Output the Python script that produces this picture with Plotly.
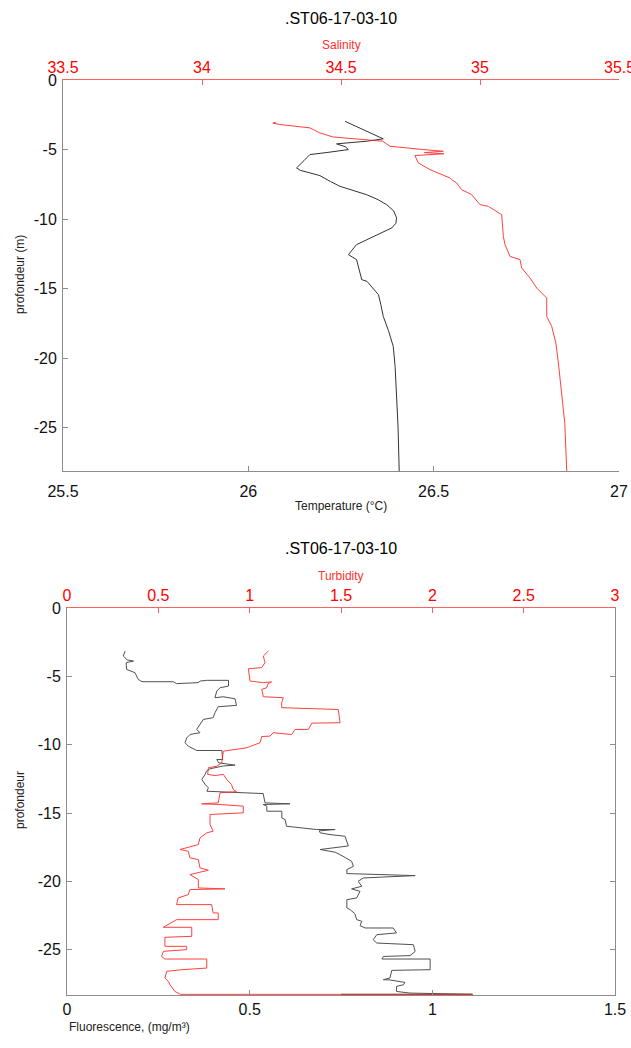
import plotly.graph_objects as go

# ---- CTD cast .ST06-17-03-10 : temperature / salinity profile ----
temp_depth = [-2.97, -3.6, -4.23, -4.40, -4.59, -4.80, -5.00, -5.20, -5.29, -5.36, -5.8, -6.32, -6.49,
              -6.87, -7.30, -7.64, -8.24, -8.60, -8.96, -9.40, -9.91, -10.30, -10.63, -11.12, -11.50,
              -11.83, -12.55, -12.91, -13.60, -14.35, -14.47, -15.43, -16.20, -16.99, -18.00, -19.15,
              -20.59, -22.50, -25.00, -28.10]
temperature = [26.261, 26.315, 26.364, 26.319, 26.238, 26.262, 26.270, 26.215, 26.190, 26.166, 26.150,
               26.130, 26.140, 26.193, 26.222, 26.247, 26.319, 26.350, 26.373, 26.392, 26.400, 26.398,
               26.387, 26.346, 26.318, 26.292, 26.270, 26.292, 26.298, 26.306, 26.320, 26.351, 26.358,
               26.364, 26.378, 26.391, 26.396, 26.400, 26.404, 26.407]

sal_depth = [-3.03, -3.10, -3.20, -3.44, -3.80, -4.09, -4.40, -4.76, -5.00, -5.12, -5.22, -5.30, -5.43,
             -5.96, -6.44, -7.04, -7.16, -7.40, -7.88, -8.24, -8.96, -9.08, -9.68, -10.50, -11.24,
             -11.83, -12.68, -12.91, -13.51, -14.23, -14.95, -15.67, -16.99, -17.71, -18.91, -20.35,
             -22.50, -24.66, -28.10]
salinity = [34.266, 34.255, 34.280, 34.388, 34.424, 34.470, 34.650, 34.676, 34.796, 34.868, 34.800,
            34.870, 34.766, 34.778, 34.820, 34.892, 34.898, 34.916, 34.934, 34.970, 35.000, 35.030,
            35.078, 35.082, 35.084, 35.090, 35.108, 35.144, 35.150, 35.180, 35.204, 35.240, 35.240,
            35.258, 35.273, 35.282, 35.294, 35.305, 35.312]

# ---- fluorescence / turbidity profile ----
fluo_depth = [-3.15, -3.51, -3.80, -3.88, -3.95, -4.00, -4.49, -4.73, -5.22, -5.39, -5.39, -5.53, -5.46,
              -5.34, -5.29, -5.29, -5.71, -5.83, -6.07, -6.56, -6.49, -6.64, -7.12, -7.22, -7.66, -8.02,
              -8.15, -8.51, -8.88, -9.12, -9.25, -9.49, -9.85, -10.10, -10.42, -10.42, -11.08, -11.08,
              -11.32, -11.49, -11.55, -11.76, -11.93, -12.17, -12.54, -12.90, -13.15, -13.40, -13.47,
              -13.47, -13.57, -14.25, -14.32, -14.37, -14.49, -14.86, -14.86, -15.35, -15.47, -15.96,
              -16.08, -16.20, -16.20, -16.30, -16.44, -16.57, -16.69, -17.18, -17.40, -17.66, -17.86,
              -18.03, -18.52, -18.89, -19.13, -19.42, -19.57, -19.74, -19.98, -20.35, -20.54, -20.72,
              -21.20, -21.33, -21.93, -22.06, -22.35, -22.79, -22.91, -23.23, -23.40, -23.40, -23.76,
              -23.89, -24.25, -24.50, -24.62, -25.11, -25.23, -25.42, -25.48, -25.67, -25.67, -26.45,
              -26.50, -27.06, -27.18, -27.20, -27.38, -27.55, -27.67, -28.04, -28.16, -28.25, -28.25]
fluorescence = [0.159, 0.154, 0.165, 0.182, 0.170, 0.162, 0.163, 0.186, 0.195, 0.205, 0.291, 0.300, 0.359,
                0.365, 0.382, 0.442, 0.442, 0.419, 0.410, 0.405, 0.428, 0.460, 0.464, 0.414, 0.405, 0.400,
                0.373, 0.364, 0.355, 0.364, 0.337, 0.328, 0.323, 0.332, 0.355, 0.424, 0.426, 0.410,
                0.415, 0.460, 0.428, 0.391, 0.382, 0.378, 0.369, 0.378, 0.387, 0.383, 0.437,
                0.474, 0.537, 0.542, 0.610, 0.537, 0.547, 0.547, 0.588, 0.588, 0.597, 0.601,
                0.638, 0.683, 0.734, 0.690, 0.693, 0.720, 0.761, 0.766, 0.770, 0.693, 0.734,
                0.747, 0.779, 0.784, 0.766, 0.766, 0.953, 0.811, 0.797, 0.807, 0.779, 0.802,
                0.793, 0.766, 0.766, 0.775, 0.788, 0.793, 0.807, 0.802, 0.816, 0.893, 0.902,
                0.848, 0.838, 0.848, 0.948, 0.953, 0.948, 0.939, 0.866, 0.862, 0.994, 0.994,
                0.889, 0.884, 0.866, 0.884, 0.925, 0.921, 0.902, 0.902, 0.939, 1.110, 0.750]

turb_depth = [-3.15, -3.51, -4.00, -4.36, -4.44, -5.34, -5.46, -5.40, -5.55, -5.83, -5.95, -6.49, -6.56,
              -6.93, -7.29, -7.37, -7.42, -8.39, -8.42, -8.88, -8.88, -9.25, -9.12, -9.37, -9.40, -9.85,
              -10.22, -10.47, -11.32, -11.57, -11.68, -12.17, -12.25, -12.17, -12.54, -12.90, -13.27,
              -13.44, -13.51, -14.25, -14.32, -14.37, -14.49, -14.98, -15.10, -15.83, -16.32, -16.44,
              -16.81, -17.30, -17.66, -17.79, -18.27, -18.40, -19.00, -19.18, -19.37, -19.49, -19.86,
              -20.47, -20.54, -20.55, -20.59, -20.96, -21.20, -21.69, -21.69, -22.30, -22.30, -22.79,
              -22.79, -23.35, -23.35, -24.01, -24.08, -24.74, -24.74, -24.98, -25.11, -25.48, -25.67,
              -25.67, -26.33, -26.45, -26.57, -27.06, -27.31, -27.55, -28.04, -28.25, -28.25]
turbidity = [1.102, 1.075, 1.084, 1.066, 0.993, 1.002, 1.075, 1.120, 1.100, 1.093, 1.066, 1.075, 1.184,
             1.175, 1.175, 1.422, 1.485, 1.495, 1.340, 1.321, 1.248, 1.230, 1.129, 1.111, 1.066, 1.057,
             0.984, 0.856, 0.847, 0.820, 0.774, 0.770, 0.810, 0.856, 0.874, 0.900, 0.910,
             0.928, 0.838, 0.828, 0.737, 0.838, 0.965, 0.965, 0.783, 0.783, 0.800, 0.765,
             0.728, 0.719, 0.619, 0.664, 0.673, 0.719, 0.728, 0.774, 0.719, 0.673, 0.719,
             0.719, 0.865, 0.700, 0.673, 0.664, 0.609, 0.600, 0.792, 0.800, 0.828, 0.828,
             0.600, 0.527, 0.683, 0.683, 0.536, 0.536, 0.655, 0.655, 0.527, 0.518, 0.536,
             0.765, 0.765, 0.628, 0.546, 0.536, 0.555, 0.564, 0.591, 0.620, 2.220]

title_text = ".ST06-17-03-10"
depth_ticks = [0, -5, -10, -15, -20, -25]
temp_ticks = [25.5, 26, 26.5, 27]
sal_ticks = [33.5, 34, 34.5, 35, 35.5]
fluo_ticks = [0, 0.5, 1, 1.5]
turb_ticks = [0, 0.5, 1, 1.5, 2, 2.5, 3]

W, H = 631, 1048
FONT = "Liberation Sans, Arial, sans-serif"
RED = "#ff2020"
TICK_RED = "#ff0000"
BLACK = "#333333"
AXIS_GREY = "#8c8c8c"


def px(x):
    return x / W


def py(y):
    return 1 - y / H


def fmt(v):
    return f"{v:g}"


fig = go.Figure()
fig.add_trace(go.Scatter(x=temperature, y=temp_depth, xaxis="x", yaxis="y", mode="lines",
                         line=dict(color=BLACK, width=1), showlegend=False))
fig.add_trace(go.Scatter(x=salinity, y=sal_depth, xaxis="x2", yaxis="y", mode="lines",
                         line=dict(color=RED, width=1), opacity=0.85, showlegend=False))
fig.add_trace(go.Scatter(x=turbidity, y=turb_depth, xaxis="x4", yaxis="y2", mode="lines",
                         line=dict(color=RED, width=1), opacity=0.85, showlegend=False))
fig.add_trace(go.Scatter(x=fluorescence, y=fluo_depth, xaxis="x3", yaxis="y2", mode="lines",
                         line=dict(color=BLACK, width=1), opacity=0.85, showlegend=False))

tickfont = dict(family=FONT, size=16, color="#111111")
redtick = dict(family=FONT, size=16, color=TICK_RED)

common = dict(showgrid=False, zeroline=False, showline=True, ticks="inside", ticklen=5,
              tickwidth=1, automargin=False)

# the last salinity label sits on the page edge; it is written separately below
sal_text = [fmt(v) for v in sal_ticks[:-1]] + [""]

fig.update_layout(
    width=W, height=H,
    margin=dict(l=0, r=0, t=0, b=0),
    paper_bgcolor="white", plot_bgcolor="white",
    font=dict(family=FONT),
    xaxis=dict(domain=[px(63), px(619)], anchor="y", side="bottom", range=[25.5, 27],
               tickvals=temp_ticks, ticktext=[fmt(v) for v in temp_ticks], tickfont=tickfont,
               linecolor=AXIS_GREY, tickcolor=AXIS_GREY, ticklabelstandoff=6, **common),
    xaxis2=dict(overlaying="x", anchor="y", side="top", range=[33.5, 35.5],
                tickvals=sal_ticks, ticktext=sal_text, tickfont=redtick,
                linecolor="#ff6060", tickcolor="#ff6060", ticklabelstandoff=0, **common),
    yaxis=dict(domain=[py(471), py(80)], anchor="x", range=[-28.1, 0],
               tickvals=depth_ticks, ticktext=[fmt(v) for v in depth_ticks], tickfont=tickfont,
               linecolor=AXIS_GREY, tickcolor=AXIS_GREY, ticklabelstandoff=2, **common),
    xaxis3=dict(domain=[px(67), px(615)], anchor="y2", side="bottom", range=[0, 1.5],
                tickvals=fluo_ticks, ticktext=[fmt(v) for v in fluo_ticks], tickfont=tickfont,
                linecolor=AXIS_GREY, tickcolor=AXIS_GREY, ticklabelstandoff=0, **common),
    xaxis4=dict(overlaying="x3", anchor="y2", side="top", range=[0, 3],
                tickvals=turb_ticks, ticktext=[fmt(v) for v in turb_ticks],
                tickfont=redtick, linecolor="#ff6060", tickcolor="#ff6060",
                ticklabelstandoff=0, **common),
    yaxis2=dict(domain=[py(995), py(608)], anchor="x3", range=[-28.3, 0], mirror="ticks",
                tickvals=depth_ticks, ticktext=[fmt(v) for v in depth_ticks], tickfont=tickfont,
                linecolor=AXIS_GREY, tickcolor=AXIS_GREY, ticklabelstandoff=2, **common),
)

labels = [
    (title_text, 341, 18, "black", 16, 0, "center"),
    ("Salinity", 341, 45, "#ff3030", 12, 0, "center"),
    (fmt(sal_ticks[-1]), 619, 67, TICK_RED, 16, 0, "center"),
    ("Temperature (°C)", 341, 506, "#222222", 12, 0, "center"),
    ("profondeur (m)", 20, 275, "#222222", 12, -90, "center"),
    (title_text, 341, 548, "black", 16, 0, "center"),
    ("Turbidity", 341, 576, "#ff3030", 12, 0, "center"),
    ("profondeur", 20, 800, "#222222", 12, -90, "center"),
    ("Fluorescence, (mg/m³)", 67, 1027, "#222222", 12, 0, "left"),
]
for text, x, y, color, size, angle, xanchor in labels:
    fig.add_annotation(text=text, x=px(x), y=py(y), xref="paper", yref="paper",
                       xanchor=xanchor, yanchor="middle", showarrow=False, textangle=angle,
                       font=dict(family=FONT, size=size, color=color))

fig.write_html("out.html")
